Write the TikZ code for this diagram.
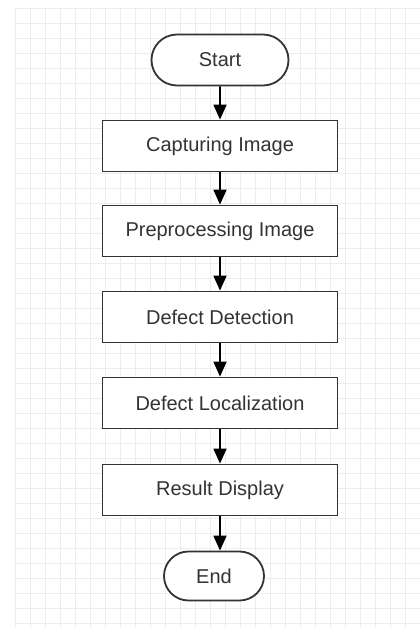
\documentclass[tikz,border=0pt]{standalone}
\usepackage{fontspec}
\setmainfont{Liberation Sans}
\usetikzlibrary{arrows.meta,shapes.misc}
\definecolor{ink}{HTML}{333333}
\definecolor{gridline}{HTML}{EDEDED}
\tikzset{
  procbox/.style={draw=ink, line width=1.8pt, fill=white, text=ink,
    minimum width=235pt, minimum height=51pt, inner sep=0pt,
    font=\fontsize{20}{24}\selectfont},
  terminal/.style={draw=ink, line width=1.8pt, fill=white, text=ink,
    rounded rectangle, inner sep=0pt, minimum height=51pt,
    font=\fontsize{20}{24}\selectfont},
  flow/.style={draw=black, line width=1.8pt,
    -{Triangle[length=15pt,width=13pt]}}
}
\begin{document}
\begin{tikzpicture}[x=1pt,y=-1pt]
  \useasboundingbox (0,0) rectangle (420,635);
  \fill[white] (0,0) rectangle (420,635);
  % background grid
  \draw[gridline, line width=0.8pt, step=15pt, xshift=15pt, yshift=-8pt]
    (0,0) grid (405,620);
  % flowchart
  \node[terminal, minimum width=137pt] (start) at (220,60) {Start};
  \node[procbox] (capture) at (220,146) {Capturing Image};
  \node[procbox] (prep)    at (220,231) {Preprocessing Image};
  \node[procbox] (detect)  at (220,317) {Defect Detection};
  \node[procbox] (local)   at (220,403) {Defect Localization};
  \node[procbox] (result)  at (220,490) {Result Display};
  \node[terminal, minimum width=100pt, minimum height=49pt] (end) at (214,576) {End};
  \draw[flow] (start) -- (capture);
  \draw[flow] (capture) -- (prep);
  \draw[flow] (prep) -- (detect);
  \draw[flow] (detect) -- (local);
  \draw[flow] (local) -- (result);
  \draw[flow] (result.south) -- (result.south |- end.north);
\end{tikzpicture}
\end{document}
